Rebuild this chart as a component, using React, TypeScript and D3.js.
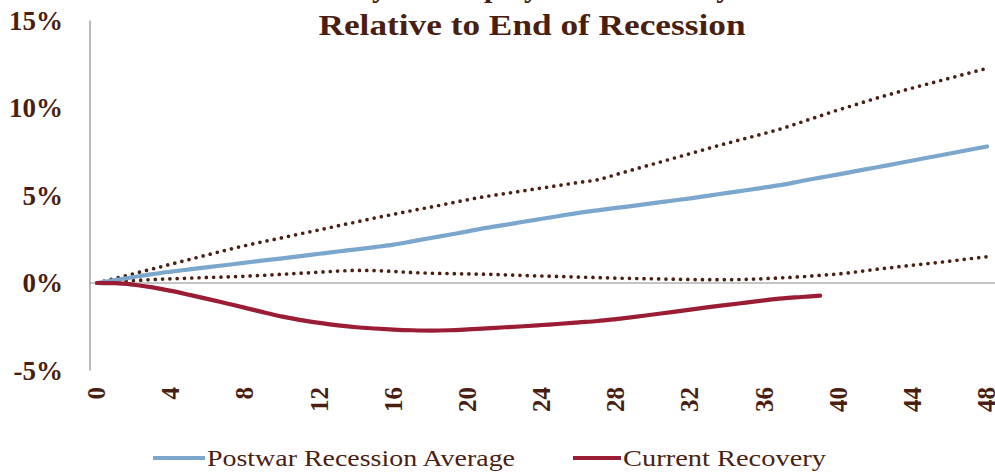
import React from "react";
import * as d3 from "d3";

const months = d3.range(0, 49);
const postwarAvg = [0,0.17,0.34,0.51,0.65,0.78,0.91,1.03,1.16,1.29,1.41,1.54,1.67,1.8,1.92,2.05,2.19,2.38,2.57,2.76,2.95,3.15,3.32,3.5,3.67,3.84,4.01,4.15,4.29,4.42,4.56,4.7,4.84,4.99,5.15,5.3,5.46,5.62,5.83,6.02,6.21,6.41,6.6,6.8,7.0,7.2,7.4,7.6,7.8];
const upperBand = [0,0.27,0.54,0.81,1.08,1.35,1.62,1.89,2.14,2.37,2.59,2.82,3.04,3.27,3.49,3.72,3.93,4.14,4.34,4.55,4.76,4.95,5.11,5.27,5.43,5.59,5.75,5.9,6.2,6.5,6.8,7.1,7.4,7.7,7.99,8.27,8.55,8.85,9.2,9.55,9.9,10.22,10.55,10.85,11.15,11.43,11.71,11.99,12.27];
const lowerBand = [0,0.07,0.14,0.2,0.24,0.28,0.32,0.35,0.39,0.44,0.5,0.56,0.62,0.68,0.72,0.71,0.66,0.6,0.56,0.54,0.52,0.5,0.47,0.43,0.4,0.37,0.34,0.31,0.28,0.26,0.24,0.22,0.2,0.19,0.19,0.21,0.25,0.3,0.36,0.44,0.52,0.64,0.78,0.9,1.02,1.13,1.25,1.38,1.5];
const currentRecovery = [0,-0.01,-0.1,-0.25,-0.45,-0.68,-0.92,-1.17,-1.42,-1.68,-1.92,-2.12,-2.28,-2.42,-2.53,-2.6,-2.66,-2.7,-2.72,-2.7,-2.65,-2.59,-2.53,-2.47,-2.4,-2.33,-2.25,-2.17,-2.06,-1.94,-1.8,-1.66,-1.52,-1.38,-1.25,-1.12,-0.99,-0.88,-0.8,-0.72];
const xTicks = [0,4,8,12,16,20,24,28,32,36,40,44,48];
const yTicks = [-5,0,5,10,15];
const titleLines = ["Payroll Employment Recovery", "Relative to End of Recession"];
const legendLabels = ["Postwar Recession Average", "Current Recovery"];

const TEXT = "#4a1f12";
const BLUE = "#7ba7cd";
const RED = "#9b1c35";
const DOT = "#4a1f12";
const FONT = "'Liberation Serif', 'DejaVu Serif', serif";

export default function App() {
  const W = 995, H = 474;
  const x = d3.scaleLinear().domain([0, 48]).range([97, 987]);
  const y = d3.scaleLinear().domain([-5, 15]).range([370.5, 20.5]);
  const mk = (arr: number[]) =>
    d3.line<number>().x((_, i) => x(months[i])).y((v) => y(v)).curve(d3.curveMonotoneX)(arr) || "";

  return (
    <svg width={W} height={H} style={{ position: "absolute", left: 0, top: 0, background: "#fff" }} fontFamily={FONT}>
      <text x={535} y={-3} textAnchor="middle" fontSize={30} fontWeight="bold" fill={TEXT}>{titleLines[0]}</text>
      <text x={532} y={35} textAnchor="middle" fontSize={30} fontWeight="bold" fill={TEXT} textLength={427} lengthAdjust="spacingAndGlyphs">{titleLines[1]}</text>
      {/* axes */}
      <line x1={90} x2={90} y1={y(15)} y2={y(-5)} stroke="#8c8c8c" strokeWidth={1.2} />
      <line x1={90} x2={995} y1={y(0)} y2={y(0)} stroke="#8c8c8c" strokeWidth={1.2} />
      {yTicks.map((t) => (
        <text key={t} x={63} y={y(t) + 9} textAnchor="end" fontSize={27} fontWeight="bold" fill={TEXT}>{`${t}%`}</text>
      ))}
      {xTicks.map((t) => (
        <text key={t} transform={`translate(${x(t) + 8},387) rotate(-90)`} textAnchor="end" fontSize={25} fontWeight="bold" fill={TEXT}>{t}</text>
      ))}
      {/* series */}
      <path d={mk(upperBand)} fill="none" stroke={DOT} strokeWidth={3.7} strokeDasharray="0 7.3" strokeLinecap="round" />
      <path d={mk(lowerBand)} fill="none" stroke={DOT} strokeWidth={3.7} strokeDasharray="0 7.3" strokeLinecap="round" />
      <path d={mk(postwarAvg)} fill="none" stroke={BLUE} strokeWidth={4.2} strokeLinecap="round" />
      <path d={mk(currentRecovery)} fill="none" stroke={RED} strokeWidth={4.2} strokeLinecap="round" />
      {/* legend */}
      <line x1={153} x2={205} y1={458} y2={458} stroke={BLUE} strokeWidth={4.2} />
      <text x={207} y={466} fontSize={23} fill={TEXT} textLength={308} lengthAdjust="spacingAndGlyphs">{legendLabels[0]}</text>
      <line x1={573} x2={621} y1={458} y2={458} stroke={RED} strokeWidth={4.2} />
      <text x={623} y={466} fontSize={23} fill={TEXT} textLength={203} lengthAdjust="spacingAndGlyphs">{legendLabels[1]}</text>
    </svg>
  );
}
